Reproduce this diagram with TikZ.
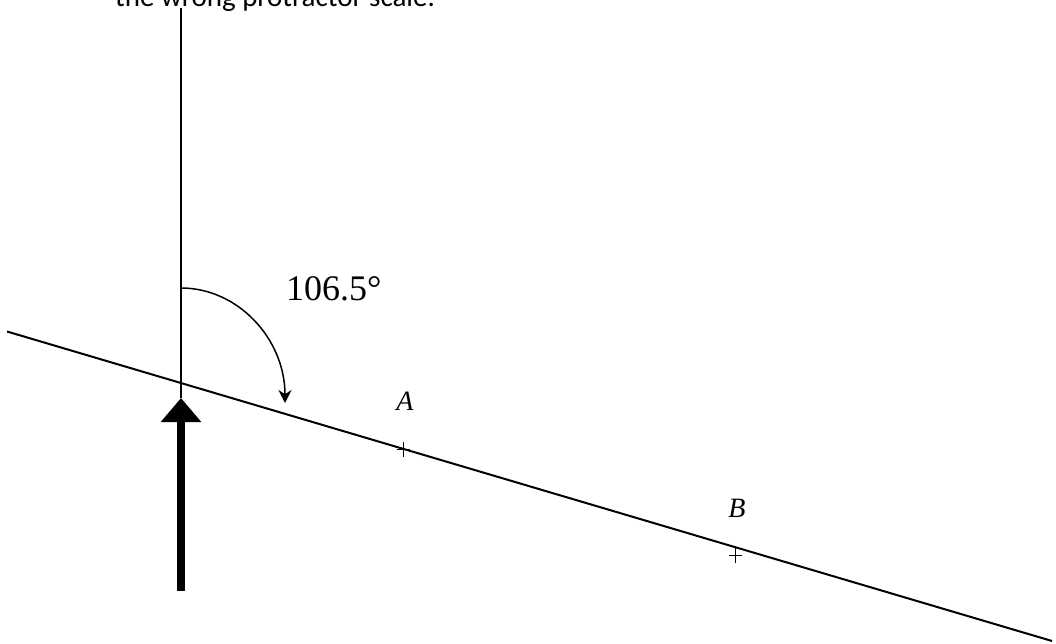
\documentclass[tikz,border=0pt]{standalone}
\usepackage{fontspec}
\setmainfont{Liberation Serif}
\newfontfamily\notefont{Carlito}
\usetikzlibrary{arrows.meta}

\begin{document}
\begin{tikzpicture}[x=1pt, y=-1pt,
  thinline/.style={line width=1.5pt},
  crossmark/.style={line width=1pt},
  ptlabel/.style={font=\fontsize{28}{30}\selectfont\itshape, inner sep=0pt},
  anglabel/.style={font=\fontsize{36}{40}\selectfont, inner sep=0pt}]
  \clip (0,0) rectangle (1056,644);

  % cut-off caption above the picture
  \node[anchor=base west, inner sep=0pt, font=\notefont\fontsize{29}{33}\selectfont]
    (note) at (115,7) {the wrong protractor scale.};

  \coordinate (top) at (181,8);
  \coordinate (O) at (181,398);
  \coordinate (lineL) at (7,331.5);
  \coordinate (lineR) at (1052,641);

  % north line and bearing line
  \draw[thinline] (top) -- (O);
  \draw[line width=2pt] (lineL) -- (lineR);

  % heading arrow
  \coordinate (tail) at (181,591);
  \draw[line width=8pt, -{Triangle[length=24pt, width=39pt]}] (tail) -- (O);

  % angle arc
  \coordinate (arcS) at (181,288);
  \coordinate (arcE) at (285,403);
  \draw[thinline, -{Stealth[length=13pt, width=13pt]}]
    (arcS) .. controls (238,288) and (285,339) .. (arcE);
  \node[anchor=base west, anglabel] (ang) at (286,300) {106.5°};

  % points A and B
  \foreach \n/\x/\y in {A/403/449, B/735/555}{
    \coordinate (pt\n) at (\x,\y);
    \draw[crossmark] ([xshift=-6.5pt]pt\n) -- ([xshift=6.5pt]pt\n);
    \draw[crossmark] ([yshift=7.5pt]pt\n) -- ([yshift=-7.5pt]pt\n);
  }
  \node[anchor=base, ptlabel] (labA) at (405,410) {A};
  \node[anchor=base, ptlabel] (labB) at (737,517) {B};

\end{tikzpicture}
\end{document}
